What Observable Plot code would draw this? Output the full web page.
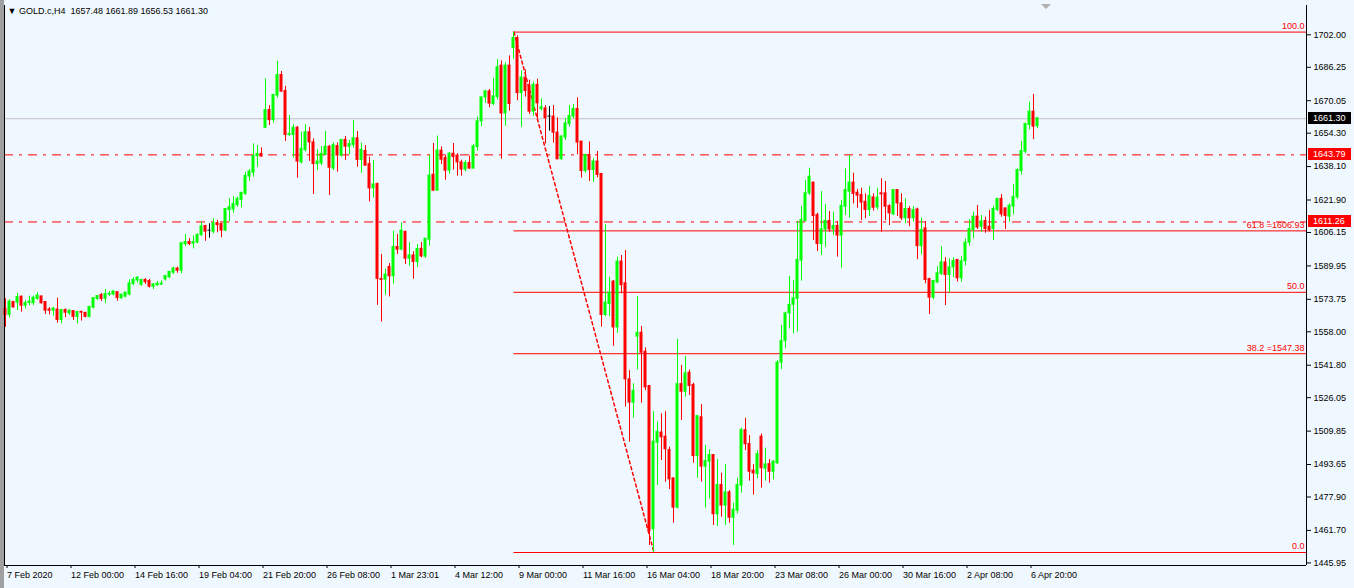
<!DOCTYPE html>
<html>
<head>
<meta charset="utf-8">
<script src="https://cdn.jsdelivr.net/npm/d3@7"></script>
<script src="https://cdn.jsdelivr.net/npm/@observablehq/plot@0.6"></script>
<style>
html, body { margin: 0; padding: 0; background: #F0F8FF; }
#chart { position: relative; width: 1354px; height: 588px; overflow: hidden;
  background: linear-gradient(to right, #a0a0a0 0px, #a0a0a0 4px, #F0F8FF 4px); }
#chart svg { display: block; }
</style>
</head>
<body>
<div id="chart"></div>
<script>
// ---------- DATA (GOLD.c, H4, one value per bar) ----------
const opens = [1568.8,1565.9,1572.2,1571.9,1574.8,1570.4,1571.7,1571.6,1573.7,1574.9,1572.2,1568.6,1568.0,1568.6,1563.5,1568.3,1566.7,1567.8,1565.0,1567.4,1566.9,1565.0,1569.5,1573.7,1575.6,1573.7,1575.8,1575.8,1577.0,1574.0,1574.8,1575.8,1580.9,1582.6,1580.5,1582.9,1582.4,1579.6,1580.3,1580.6,1583.2,1584.2,1586.4,1588.4,1587.4,1600.2,1601.3,1600.5,1601.0,1604.7,1609.1,1606.8,1606.3,1610.5,1610.0,1606.8,1616.8,1617.1,1619.2,1621.7,1624.6,1633.0,1634.9,1643.0,1644.0,1656.7,1665.3,1660.4,1672.3,1682.3,1674.5,1653.2,1653.2,1656.7,1639.9,1645.9,1654.5,1649.6,1639.1,1639.4,1643.5,1647.5,1637.0,1647.8,1643.2,1650.8,1647.5,1648.3,1651.6,1641.1,1645.4,1639.1,1627.3,1629.4,1583.4,1583.1,1589.2,1584.7,1598.9,1597.6,1606.2,1593.2,1594.8,1591.6,1598.0,1594.3,1602.4,1633.9,1626.2,1645.6,1642.0,1635.9,1644.1,1643.2,1639.9,1636.4,1639.6,1636.9,1647.3,1659.8,1671.4,1674.3,1668.2,1671.6,1686.8,1663.6,1686.8,1695.4,1700.2,1673.5,1681.0,1677.0,1664.5,1677.5,1665.8,1666.1,1662.1,1662.1,1654.3,1641.5,1652.0,1658.5,1662.1,1665.8,1650.0,1635.7,1643.5,1636.2,1640.3,1634.3,1565.9,1571.2,1582.1,1559.9,1591.8,1581.3,1534.7,1523.4,1555.4,1557.3,1548.1,1531.5,1462.0,1504.0,1508.9,1506.9,1500.4,1486.7,1472.5,1532.4,1528.7,1537.9,1532.0,1497.5,1516.3,1492.4,1494.8,1498.0,1469.3,1483.5,1473.5,1479.9,1467.6,1471.0,1483.2,1510.1,1503.4,1490.4,1488.8,1506.9,1491.4,1493.6,1489.9,1494.0,1542.8,1553.3,1566.7,1570.8,1573.7,1592.3,1611.5,1624.9,1630.1,1614.4,1600.3,1607.4,1611.5,1607.4,1609.1,1604.4,1618.4,1625.7,1630.1,1625.2,1624.1,1620.8,1616.8,1622.9,1618.1,1624.9,1624.9,1618.7,1614.7,1626.5,1620.0,1612.8,1617.3,1612.8,1617.1,1599.3,1607.9,1583.3,1574.3,1581.7,1585.8,1591.4,1585.3,1589.0,1592.6,1583.7,1592.0,1601.0,1607.1,1613.6,1608.7,1611.5,1608.7,1607.6,1616.8,1622.2,1617.6,1613.6,1618.4,1623.0,1635.7,1645.1,1658.0,1664.5,1657.48];
const highs = [1574.0,1573.5,1572.2,1576.6,1575.3,1573.2,1575.3,1575.3,1577.0,1575.3,1572.2,1569.8,1569.8,1574.3,1568.6,1569.1,1568.6,1568.3,1567.8,1568.0,1567.5,1570.4,1574.3,1575.6,1576.6,1578.5,1577.5,1577.4,1577.4,1575.9,1577.2,1583.2,1584.2,1584.8,1583.4,1583.7,1583.4,1581.3,1582.4,1582.6,1585.3,1587.2,1589.3,1589.3,1601.0,1605.2,1603.2,1604.5,1605.5,1611.2,1609.5,1610.4,1612.8,1612.0,1610.4,1617.8,1622.5,1623.6,1623.3,1625.7,1635.4,1636.7,1649.1,1648.3,1647.2,1680.6,1667.7,1672.9,1689.1,1684.2,1677.0,1662.9,1658.4,1657.6,1654.8,1658.4,1657.1,1651.6,1646.2,1647.8,1655.1,1648.3,1649.6,1649.6,1651.2,1652.7,1650.8,1660.4,1655.1,1649.5,1648.3,1642.7,1641.1,1630.1,1595.5,1588.4,1591.1,1606.8,1605.2,1610.8,1606.8,1601.3,1596.8,1600.3,1601.3,1603.2,1643.6,1649.3,1652.9,1647.7,1643.6,1644.9,1649.3,1644.4,1641.2,1640.9,1643.2,1648.8,1662.2,1671.9,1675.1,1675.5,1680.8,1690.0,1689.4,1688.4,1691.8,1703.3,1701.5,1684.5,1685.0,1680.0,1679.0,1680.5,1671.0,1667.7,1667.2,1667.7,1661.7,1653.2,1661.3,1667.7,1668.2,1671.4,1650.0,1644.0,1650.0,1641.9,1645.4,1634.3,1610.0,1584.5,1582.9,1594.2,1595.0,1597.4,1539.2,1532.8,1575.1,1560.6,1550.2,1531.5,1519.3,1514.2,1518.2,1519.3,1502.1,1487.0,1554.3,1541.7,1546.0,1539.5,1533.1,1516.9,1522.7,1502.9,1500.9,1498.5,1496.1,1489.4,1493.6,1481.0,1474.9,1487.0,1511.3,1516.1,1507.7,1493.6,1500.4,1508.5,1501.6,1496.1,1495.6,1544.1,1561.1,1567.5,1584.8,1582.9,1611.5,1618.8,1631.4,1637.3,1630.5,1615.5,1626.0,1619.7,1616.3,1616.0,1611.5,1621.7,1637.0,1643.5,1634.9,1627.0,1627.6,1624.9,1628.4,1624.9,1627.6,1632.2,1630.9,1619.6,1626.5,1626.5,1624.9,1622.5,1618.7,1618.7,1617.9,1613.1,1611.5,1584.0,1582.9,1589.6,1599.3,1593.9,1593.4,1593.9,1592.6,1594.5,1603.0,1612.5,1616.0,1619.2,1614.4,1613.6,1616.8,1618.9,1622.5,1624.6,1617.9,1620.0,1629.4,1637.0,1650.3,1659.2,1669.3,1673.1,1661.89];
const lows = [1560.2,1564.8,1569.5,1568.3,1567.5,1569.1,1570.7,1570.7,1573.3,1571.4,1566.4,1566.2,1565.6,1562.2,1561.9,1564.8,1565.9,1563.5,1561.9,1563.2,1564.8,1564.8,1569.1,1573.2,1572.7,1571.6,1575.1,1575.4,1572.8,1573.7,1574.5,1575.4,1580.4,1581.6,1580.1,1580.9,1579.2,1578.5,1580.1,1580.5,1582.6,1583.8,1585.8,1586.4,1586.1,1599.4,1599.8,1598.2,1600.7,1604.2,1601.9,1603.4,1605.5,1606.0,1603.6,1606.6,1611.2,1615.5,1618.4,1618.1,1624.1,1631.0,1633.0,1637.8,1642.7,1656.7,1658.0,1659.2,1671.3,1674.2,1650.3,1652.7,1642.2,1632.5,1639.4,1645.1,1640.6,1624.6,1636.2,1638.6,1643.5,1624.1,1636.2,1635.4,1642.7,1641.1,1643.8,1647.0,1637.8,1634.9,1638.3,1620.9,1622.8,1570.8,1562.7,1575.8,1574.9,1581.1,1595.5,1597.3,1590.6,1589.8,1583.5,1589.2,1593.9,1593.5,1599.5,1626.2,1626.2,1639.1,1631.5,1634.4,1636.4,1633.5,1633.5,1635.5,1636.9,1636.9,1645.6,1657.4,1668.7,1666.6,1667.6,1670.3,1641.7,1657.7,1665.0,1690.2,1670.0,1657.2,1671.8,1663.5,1662.5,1661.3,1665.0,1649.1,1655.3,1649.5,1641.4,1641.1,1650.8,1657.2,1661.3,1643.8,1632.5,1634.9,1630.9,1630.5,1632.7,1560.3,1565.4,1565.4,1551.0,1557.3,1576.4,1521.5,1504.5,1516.1,1539.6,1523.4,1529.5,1454.4,1451.0,1483.5,1495.6,1485.1,1481.5,1465.2,1472.2,1515.0,1526.3,1527.1,1494.3,1487.0,1485.1,1472.5,1477.0,1464.1,1463.6,1468.1,1464.1,1465.2,1454.4,1469.7,1479.8,1500.4,1485.6,1478.9,1486.7,1482.2,1485.6,1484.6,1486.2,1493.7,1539.7,1549.8,1559.4,1557.0,1557.8,1582.6,1611.2,1624.1,1602.3,1596.9,1595.0,1599.0,1606.3,1604.7,1594.2,1588.8,1614.4,1613.1,1620.0,1617.9,1611.9,1612.8,1613.9,1616.5,1617.1,1606.3,1611.9,1609.5,1614.4,1613.9,1611.9,1610.3,1609.0,1611.2,1593.0,1595.3,1581.3,1566.4,1573.6,1581.3,1585.3,1570.7,1576.9,1584.2,1582.1,1582.0,1590.0,1599.5,1603.1,1607.6,1606.3,1605.8,1606.3,1602.3,1616.3,1613.6,1607.6,1611.2,1614.7,1622.2,1634.1,1644.3,1655.9,1651.2,1656.53];
const closes = [1565.9,1572.4,1569.6,1574.6,1570.4,1571.7,1572.4,1574.3,1575.3,1571.6,1568.0,1568.0,1569.0,1563.5,1568.3,1567.0,1568.0,1565.0,1567.4,1567.0,1565.0,1569.8,1574.1,1575.1,1573.7,1576.1,1576.2,1577.4,1574.1,1575.8,1576.7,1581.2,1582.9,1584.0,1582.9,1581.8,1579.6,1580.8,1581.1,1581.1,1584.8,1586.8,1588.4,1587.4,1600.7,1601.3,1600.3,1601.3,1604.7,1608.9,1606.3,1606.8,1610.4,1609.5,1606.8,1617.3,1618.1,1619.7,1622.2,1625.1,1633.3,1635.4,1643.0,1644.0,1642.7,1665.3,1660.4,1672.6,1682.3,1674.2,1653.2,1653.7,1656.7,1640.3,1646.4,1654.5,1649.6,1639.1,1640.3,1644.0,1647.5,1637.3,1648.3,1643.2,1650.8,1647.5,1648.8,1651.6,1641.1,1645.9,1638.3,1627.3,1629.2,1583.4,1582.9,1585.5,1584.7,1598.9,1597.6,1606.8,1593.2,1594.8,1591.6,1597.9,1594.3,1602.9,1633.5,1626.2,1645.6,1641.2,1635.9,1644.1,1642.5,1639.9,1636.4,1639.6,1636.9,1647.7,1659.8,1671.4,1674.3,1668.4,1671.9,1686.0,1663.6,1686.8,1668.2,1700.2,1673.5,1681.0,1674.5,1664.5,1677.5,1668.5,1666.6,1661.3,1662.1,1654.3,1641.4,1652.4,1658.8,1662.4,1665.8,1649.5,1635.7,1643.5,1636.2,1640.3,1633.8,1565.9,1571.9,1576.7,1559.9,1591.8,1580.4,1534.7,1523.4,1529.1,1557.3,1547.6,1530.8,1461.3,1504.5,1509.3,1506.6,1500.8,1486.2,1472.5,1532.4,1528.7,1537.6,1531.5,1497.5,1516.9,1492.4,1495.1,1498.0,1469.3,1483.5,1473.5,1479.9,1467.6,1471.4,1483.5,1510.1,1503.2,1489.9,1489.1,1498.5,1491.6,1493.5,1489.9,1494.8,1542.8,1553.3,1566.7,1570.8,1574.0,1592.6,1612.0,1624.9,1633.0,1613.9,1600.3,1607.4,1611.5,1607.4,1609.1,1604.4,1618.8,1626.5,1630.1,1624.6,1623.8,1620.4,1616.8,1623.6,1617.9,1622.8,1624.4,1618.4,1615.2,1626.5,1620.0,1612.8,1617.3,1612.8,1616.8,1599.3,1607.1,1582.9,1574.3,1582.4,1586.1,1591.4,1585.3,1589.0,1592.1,1583.7,1592.0,1601.0,1607.6,1613.6,1608.3,1611.2,1607.6,1607.1,1617.3,1622.2,1614.7,1613.9,1618.9,1623.1,1636.2,1645.4,1658.5,1664.5,1657.2,1661.30];

const timeLabels = ["7 Feb 2020","12 Feb 00:00","14 Feb 16:00","19 Feb 04:00","21 Feb 20:00","26 Feb 08:00","1 Mar 23:01","4 Mar 12:00","9 Mar 00:00","11 Mar 16:00","16 Mar 04:00","18 Mar 20:00","23 Mar 08:00","26 Mar 00:00","30 Mar 16:00","2 Apr 08:00","6 Apr 20:00"];
const timeLabelBars = [0,16,32,48,64,80,96,112,128,144,160,176,192,208,224,240,256];
const priceTicks = [1702.00,1686.25,1670.05,1654.30,1638.10,1621.90,1606.15,1589.95,1573.75,1558.00,1541.80,1526.05,1509.85,1493.65,1477.90,1461.70,1445.95];

const bidPrice = 1661.30;
const levelPrices = [1643.79, 1611.26];
const fibPrices = [1703.32, 1606.93, 1577.15, 1547.38, 1450.99];
const fibLabels = ["100.0", "61.8 =1606.93", "50.0", "38.2 =1547.38", "0.0"];
const fibAnchorBars = [127, 162];
const fibAnchorPrices = [1703.32, 1450.99];
const headerText = "\u25BC GOLD.c,H4  1657.48 1661.89 1656.53 1661.30";
const priceBoxes = [
  {price: 1661.30, label: "1661.30", bg: "#000000"},
  {price: 1643.79, label: "1643.79", bg: "#ff0000"},
  {price: 1611.26, label: "1611.26", bg: "#ff0000"}
];

// ---------- CHART ----------
const GREEN = "#00ff00", RED = "#ff0000";
const xDomain = [-0.375, 325.125];
const yDomain = [1444.69, 1716.21];
const bars = opens.map((o, i) => ({i, o, h: highs[i], l: lows[i], c: closes[i]}));
const col = d => d.c > d.o ? GREEN : d.c < d.o ? RED : "#000000";
const labelByBar = new Map(timeLabelBars.map((b, k) => [b, timeLabels[k]]));
const FONT = "'Liberation Sans', Arial, sans-serif";

function overlay(index, scales, values, dimensions) {
  const g = d3.create("svg:g");
  const x0 = dimensions.width - dimensions.marginRight + 2;
  for (const b of priceBoxes) {
    const y = Math.round(scales.y(b.price));
    g.append("rect").attr("x", x0).attr("y", y - 6).attr("width", 43).attr("height", 12).attr("fill", b.bg);
    g.append("text").attr("x", x0 + 5).attr("y", y).attr("dy", "0.35em")
      .attr("text-anchor", "start")
      .attr("fill", "#ffffff").attr("font-family", FONT).attr("font-size", 9).text(b.label);
  }
  const tx = Math.round(scales.x(opens.length + 1));
  g.append("path").attr("d", `M${tx - 5},4 L${tx + 5},4 L${tx},9 Z`).attr("fill", "#b0b0b0");
  return g.node();
}

const chart = Plot.plot({
  width: 1354,
  height: 588,
  marginLeft: 4,
  marginRight: 48,
  marginTop: 5,
  marginBottom: 23,
  style: {background: "transparent", fontFamily: FONT, fontSize: "9px", color: "#000", overflow: "visible"},
  x: {domain: xDomain, axis: null},
  y: {domain: yDomain, axis: null},
  marks: [
    Plot.ruleY([bidPrice], {stroke: "#c0c0c0"}),
    Plot.ruleY(levelPrices, {stroke: RED, strokeDasharray: "9,6,3,6"}),
    Plot.ruleY(fibPrices, {x1: fibAnchorBars[0], x2: xDomain[1], stroke: RED}),
    Plot.text(fibPrices, {x: xDomain[1], y: d => d, text: (d, i) => fibLabels[i], textAnchor: "end", dx: -2, dy: -6, fill: RED, fontSize: 9}),
    Plot.line(fibAnchorBars.map((b, k) => ({b, p: fibAnchorPrices[k]})), {x: "b", y: "p", stroke: RED, strokeDasharray: "3,3"}),
    Plot.ruleX(bars, {x: "i", y1: "l", y2: "h", stroke: col, dx: -0.5}),
    Plot.rect(bars, {x1: d => d.i - 0.375, x2: d => d.i + 0.375, y1: "o", y2: "c", fill: col, dx: -0.5, dy: -0.5, insetTop: -0.5, insetBottom: -0.5}),
    Plot.ruleX([xDomain[0]], {stroke: "#000"}),
    Plot.ruleX([xDomain[1]], {stroke: "#000"}),
    Plot.ruleY([yDomain[0]], {stroke: "#000"}),
    Plot.axisY(priceTicks, {anchor: "right", tickSize: 4, tickPadding: 3, tickFormat: d => d.toFixed(2), label: null, fontSize: 9, fill: "#000"}),
    Plot.axisX(timeLabelBars, {anchor: "bottom", tickSize: 3, tickPadding: 3, tickFormat: d => labelByBar.get(d), textAnchor: "start", dx: 1, label: null, fontSize: 9, fill: "#000"}),
    Plot.text([headerText], {frameAnchor: "top-left", dx: 3, dy: 2, lineAnchor: "top", textAnchor: "start", fill: "#000", fontSize: 9}),
    overlay
  ]
});
document.getElementById("chart").appendChild(chart);
</script>
</body>
</html>
